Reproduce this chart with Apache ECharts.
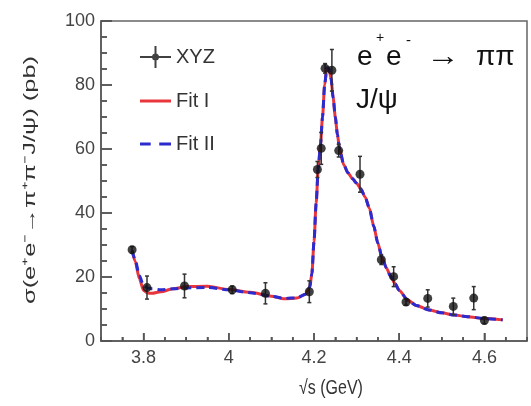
<!DOCTYPE html>
<html>
<head>
<meta charset="utf-8">
<script src="https://cdn.jsdelivr.net/npm/echarts@6/dist/echarts.min.js"></script>
<style>
html,body{margin:0;padding:0;background:#fff;}
#chart{width:531px;height:406px;}
</style>
</head>
<body>
<div id="chart"></div>
<script>
// ---- data ----
var xyzX   = [3.773, 3.808, 3.896, 4.008, 4.086, 4.189, 4.208, 4.217, 4.226, 4.242, 4.258, 4.308, 4.358, 4.387, 4.416, 4.467, 4.527, 4.575, 4.600];
var xyzY   = [28.5, 16.7, 17.2, 16.0, 14.9, 15.4, 53.6, 60.2, 85.2, 84.6, 59.5, 52.1, 25.4, 20.1, 12.2, 13.3, 10.8, 13.4, 6.4];
var xyzErr = [1.0, 3.6, 3.7, 1.2, 3.3, 3.4, 2.5, 5.0, 1.5, 6.5, 2.0, 5.6, 1.5, 3.1, 1.0, 2.7, 2.6, 3.6, 1.0];

var fitX   = [3.773, 3.78, 3.79, 3.80, 3.81, 3.82, 3.84, 3.87, 3.90, 3.95, 4.00, 4.05, 4.10, 4.13, 4.16, 4.18, 4.19, 4.195, 4.20, 4.205, 4.21, 4.215, 4.22, 4.225, 4.23, 4.235, 4.24, 4.245, 4.25, 4.255, 4.26, 4.27, 4.28, 4.29, 4.30, 4.31, 4.32, 4.33, 4.34, 4.35, 4.36, 4.37, 4.38, 4.39, 4.40, 4.42, 4.44, 4.47, 4.50, 4.53, 4.56, 4.60, 4.643];
var fitI   = [28.3, 25.0, 19.5, 15.8, 15.0, 14.9, 15.4, 16.3, 17.0, 17.1, 16.1, 15.2, 14.0, 13.2, 13.4, 14.6, 16.8, 21.0, 31.0, 43.0, 54.0, 61.0, 70.0, 80.0, 85.3, 85.3, 82.0, 76.0, 70.0, 64.5, 60.0, 55.0, 52.5, 50.8, 49.3, 47.5, 45.0, 41.5, 36.0, 30.5, 26.0, 22.8, 20.2, 18.0, 15.8, 12.8, 11.1, 9.7, 8.8, 8.1, 7.6, 7.0, 6.6];
var fitII  = [28.3, 25.5, 20.5, 17.2, 16.6, 16.3, 16.0, 16.3, 16.6, 16.7, 16.0, 15.1, 14.0, 13.3, 13.5, 14.6, 16.8, 21.0, 31.0, 43.0, 54.0, 61.0, 70.0, 80.0, 85.3, 85.3, 82.0, 76.0, 70.0, 64.5, 60.0, 55.0, 52.5, 50.8, 49.3, 47.5, 45.0, 41.5, 36.0, 30.5, 26.0, 22.8, 20.2, 18.0, 15.8, 12.8, 11.1, 9.7, 8.8, 8.1, 7.6, 7.0, 6.6];

// tick values (x every 0.05, y every 5) and the labelled ones
var xTicks  = ['3.7','3.75','3.8','3.85','3.9','3.95','4','4.05','4.1','4.15','4.2','4.25','4.3','4.35','4.4','4.45','4.5','4.55','4.6','4.65','4.7'];
var xLabels = ['3.8','4','4.2','4.4','4.6'];
var yTicks  = [0, 5, 10, 15, 20, 25, 30, 35, 40, 45, 50, 55, 60, 65, 70, 75, 80, 85, 90, 95, 100];

// ---- build ----
function zip(a, b) { return a.map(function (v, i) { return [v, b[i]]; }); }
var errData = xyzX.map(function (x, i) { return [x, xyzY[i] - xyzErr[i], xyzY[i] + xyzErr[i]]; });
function isMajor(idx, val) { return xLabels.indexOf(String(val)) >= 0; }
var xTickData = xTicks.map(function (t) { return [Number(t), xLabels.indexOf(t) >= 0 ? 1 : 0]; });
var yTickData = yTicks.map(function (t) { return [t, t % 20 === 0 ? 1 : 0]; });

var chart = echarts.init(document.getElementById('chart'));
var FONT = '"Liberation Sans", Arial, sans-serif';
var AX = '#555';
var X0 = 3.7, Y0 = 0;
var xyzIcon = 'path://M0,10h31v2h-31z M14.5,0h2v22h-2z M12,11a3.5,3.5 0 1,1 7,0a3.5,3.5 0 1,1 -7,0z';
var fit1Icon = 'path://M0,9.5h31v3h-31z';
var fit2Icon = 'path://M0,9.5h10v3h-10z M18,9.5h11v3h-11z';
var tickStyle = {stroke: AX, lineWidth: 1.5};

chart.setOption({
  animation: false,
  backgroundColor: '#fff',
  grid: {left: 101, top: 21, right: 4, bottom: 65, show: true, borderColor: '#666', borderWidth: 1.5, backgroundColor: 'transparent'},
  legend: {
    orient: 'vertical', left: 135, top: 41, itemWidth: 31, itemHeight: 22, itemGap: 23,
    textStyle: {fontFamily: FONT, fontSize: 20, color: '#333'},
    data: [
      {name: 'XYZ', icon: xyzIcon},
      {name: 'Fit I', icon: fit1Icon},
      {name: 'Fit II', icon: fit2Icon}
    ]
  },
  xAxis: [{
    type: 'value', min: 3.7, max: 4.7, interval: 0.05,
    axisLine: {show: true, lineStyle: {color: AX, width: 1.5}},
    axisTick: {show: true, inside: true, length: 4, lineStyle: {color: AX, width: 1.5}},
    axisLabel: {show: false},
    splitLine: {show: false}
  }, {
    type: 'category', data: xTicks, boundaryGap: false, position: 'bottom',
    axisLine: {show: false},
    axisTick: {show: true, inside: true, length: 8, interval: isMajor, lineStyle: {color: AX, width: 1.5}},
    axisLabel: {show: true, interval: isMajor, fontFamily: FONT, fontSize: 18, color: '#444', margin: 8},
    splitLine: {show: false}
  }],
  yAxis: {
    type: 'value', min: 0, max: 100, interval: 20,
    axisLine: {show: true, lineStyle: {color: AX, width: 1.5}},
    axisTick: {show: true, inside: true, length: 11, lineStyle: {color: AX, width: 1.5}},
    minorTick: {show: true, splitNumber: 4, length: 6, lineStyle: {color: AX, width: 1.5}},
    axisLabel: {fontFamily: FONT, fontSize: 18, color: '#444', margin: 6},
    splitLine: {show: false}
  },
  series: [{
    name: 'xticks', type: 'custom', xAxisIndex: 0, data: xTickData, silent: true, z: 6,
    encode: {x: 0, y: -1},
    renderItem: function (params, api) {
      var p = api.coord([api.value(0), Y0]);
      var len = api.value(1) ? 8 : 4;
      return {type: 'line', shape: {x1: p[0], y1: p[1], x2: p[0], y2: p[1] - len}, style: tickStyle};
    }
  }, {
    name: 'yticks', type: 'custom', xAxisIndex: 0, data: yTickData, silent: true, z: 6,
    encode: {y: 0, x: -1},
    renderItem: function (params, api) {
      var p = api.coord([X0, api.value(0)]);
      var len = api.value(1) ? 11 : 6;
      return {type: 'line', shape: {x1: p[0], y1: p[1], x2: p[0] + len, y2: p[1]}, style: tickStyle};
    }
  }, {
    name: 'Fit I', type: 'line', xAxisIndex: 0, data: zip(fitX, fitI),
    symbol: 'none', smooth: 0.25, smoothMonotone: 'x',
    itemStyle: {color: '#e8363c'},
    lineStyle: {color: '#e8363c', width: 3}, z: 2
  }, {
    name: 'Fit II', type: 'line', xAxisIndex: 0, data: zip(fitX, fitII),
    symbol: 'none', smooth: 0.25, smoothMonotone: 'x',
    itemStyle: {color: '#2b2bd0'},
    lineStyle: {color: '#2b2bd0', width: 3, type: [8, 5]}, z: 3
  }, {
    name: 'err', type: 'custom', xAxisIndex: 0, data: errData,
    encode: {x: 0, y: [1, 2]}, z: 4,
    renderItem: function (params, api) {
      var x = api.value(0);
      var p1 = api.coord([x, api.value(2)]);
      var p2 = api.coord([x, api.value(1)]);
      var st = {stroke: '#333', lineWidth: 1.5};
      return {type: 'group', children: [
        {type: 'line', shape: {x1: p1[0], y1: p1[1], x2: p2[0], y2: p2[1]}, style: st},
        {type: 'line', shape: {x1: p1[0] - 2, y1: p1[1], x2: p1[0] + 2, y2: p1[1]}, style: st},
        {type: 'line', shape: {x1: p2[0] - 2, y1: p2[1], x2: p2[0] + 2, y2: p2[1]}, style: st}
      ]};
    }
  }, {
    name: 'XYZ', type: 'scatter', xAxisIndex: 0, data: zip(xyzX, xyzY),
    symbol: 'circle', symbolSize: 9, itemStyle: {color: '#111'}, z: 5
  }],
  graphic: [
    {type: 'text', x: 357, y: 57, style: {text: 'e', font: '28px ' + FONT, fill: '#111', verticalAlign: 'middle'}},
    {type: 'text', x: 376, y: 38, style: {text: '+', font: '14px ' + FONT, fill: '#111', verticalAlign: 'middle'}},
    {type: 'text', x: 386, y: 57, style: {text: 'e', font: '28px ' + FONT, fill: '#111', verticalAlign: 'middle'}},
    {type: 'text', x: 406, y: 41, style: {text: '-', font: '15px ' + FONT, fill: '#111', verticalAlign: 'middle'}},
    {type: 'text', x: 426, y: 57, scaleX: 1.2, style: {text: '\u2192', font: '28px ' + FONT, fill: '#111', verticalAlign: 'middle'}},
    {type: 'text', x: 476, y: 57, style: {text: '\u03c0\u03c0', font: '28px ' + FONT, fill: '#111', verticalAlign: 'middle'}},
    {type: 'text', x: 356, y: 100, style: {text: 'J/\u03c8', font: '28px ' + FONT, fill: '#111', verticalAlign: 'middle'}},
    {type: 'text', x: 331, y: 388, scaleX: 0.8, style: {text: '\u221as (GeV)', font: '20px ' + FONT, fill: '#333', align: 'center', verticalAlign: 'middle'}},
    {type: 'text', x: 30, y: 180, rotation: Math.PI / 2, scaleX: 1.5, style: {text: '\u03c3(e\u207ae\u207b\u2192\u03c0\u207a\u03c0\u207bJ/\u03c8) (pb)', font: '17px ' + FONT, fill: '#333', align: 'center', verticalAlign: 'middle'}}
  ]
});
</script>
</body>
</html>
